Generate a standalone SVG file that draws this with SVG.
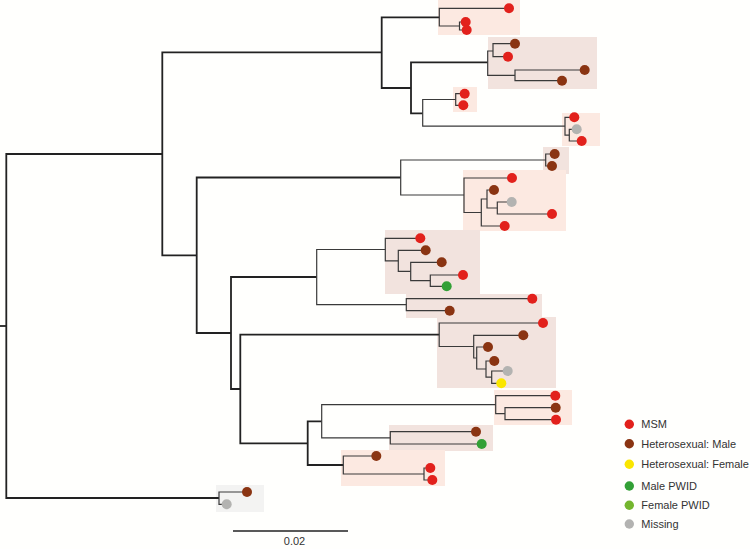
<svg xmlns="http://www.w3.org/2000/svg" width="750" height="549" viewBox="0 0 750 549">
<style>
.hs{fill:#fce9e1}
.hb{fill:#f2e3de}
.hg{fill:#f3f3f2}
.b{fill:none;stroke:#222;stroke-width:1.8}
.t{fill:none;stroke:#3a3a3a;stroke-width:1.2}
.msm{fill:#e2211c}
.hm{fill:#8a3412}
.hf{fill:#fae600}
.mp{fill:#32a036}
.fp{fill:#74b62e}
.mi{fill:#b3b3b1}
text{font-family:"Liberation Sans",Arial,sans-serif;font-size:11px;fill:#333}
</style>
<rect width="750" height="549" fill="#fffffd"/>
<g id="clades">
<rect class="hs" x="438" y="0" width="82" height="35"/>
<rect class="hb" x="488" y="37" width="109" height="52"/>
<rect class="hs" x="453" y="87" width="24" height="25"/>
<rect class="hs" x="562" y="113" width="38" height="33"/>
<rect class="hb" x="543" y="147" width="26" height="27"/>
<rect class="hs" x="463" y="170" width="103" height="61"/>
<rect class="hb" x="385" y="230" width="95" height="64"/>
<rect class="hb" x="406" y="294" width="136" height="24"/>
<rect class="hb" x="437" y="317" width="119" height="71"/>
<rect class="hs" x="494" y="390" width="78" height="35"/>
<rect class="hb" x="389" y="425" width="104" height="26"/>
<rect class="hs" x="341" y="450" width="104" height="36"/>
<rect class="hg" x="216" y="485" width="48" height="27"/>
</g>
<g id="connectors">
<path class="b" d="M0 326H6.3"/>
<path class="b" d="M162.3 154H6.3V498H219"/>
<path class="b" d="M381.7 52.3H162.3V255.3H196.7"/>
<path class="b" d="M439.3 17.3H381.7V88H411"/>
<path class="t" d="M509 8.3H439.3V26H459.5"/>
<path class="t" d="M465.7 22H459.5V30H466.7"/>
<path class="b" d="M487.7 62.3H411V113.3H422.7"/>
<path class="t" d="M493 51H487.7V75.3H515"/>
<path class="t" d="M515 43.7H493V56.7H508"/>
<path class="t" d="M584.7 70H515V80.7H562"/>
<path class="t" d="M455.7 99.5H422.7V126.2H565"/>
<path class="t" d="M464.7 93.7H455.7V105.3H463.3"/>
<path class="t" d="M574.3 117.3H565V135.2H569.3"/>
<path class="t" d="M576.7 129.3H569.3V141H581.7"/>
<path class="b" d="M400.7 177.5H196.7V333H231"/>
<path class="t" d="M545.7 160H400.7V195H464"/>
<path class="t" d="M554.7 154H545.7V166H552"/>
<path class="t" d="M512 178H464V212.5H481.3"/>
<path class="t" d="M487 199H481.3V226H504.7"/>
<path class="t" d="M494 190H487V208H497.3"/>
<path class="t" d="M511.7 202H497.3V214H552"/>
<path class="b" d="M316.7 277H231V389H240.3"/>
<path class="t" d="M385.3 249.5H316.7V304.7H406.3"/>
<path class="t" d="M420.3 238.3H385.3V260.8H398.3"/>
<path class="t" d="M425.7 250.3H398.3V271.3H410.7"/>
<path class="t" d="M441.7 262.3H410.7V280.7H430.3"/>
<path class="t" d="M463 275H430.3V286.3H446.7"/>
<path class="t" d="M532.3 298.7H406.3V310.7H449.7"/>
<path class="b" d="M439.2 334.7H240.3V443.3H307.7"/>
<path class="t" d="M543 323H439.2V346.5H473.7"/>
<path class="t" d="M523.3 335.3H473.7V358H476.7"/>
<path class="t" d="M488 347H476.7V369H486"/>
<path class="t" d="M494.3 361H486V377.2H491.7"/>
<path class="t" d="M507.7 371H491.7V383.3H501.3"/>
<path class="b" d="M321.7 421.3H307.7V465H343.3"/>
<path class="t" d="M495.7 404.7H321.7V437.8H390.3"/>
<path class="t" d="M555.3 395.7H495.7V413.7H505"/>
<path class="t" d="M555.7 407.7H505V419.7H556"/>
<path class="t" d="M476 431.7H390.3V444H481.7"/>
<path class="t" d="M376.3 456H343.3V474H424"/>
<path class="t" d="M430.3 468H424V480H432.3"/>
<path class="t" d="M247 492H219V504.3H226.7"/>
</g>
<g id="tips">
<g id="tip1"><circle class="msm" cx="509" cy="8.3" r="5"/></g>
<g id="tip2"><circle class="msm" cx="465.7" cy="22" r="5"/></g>
<g id="tip3"><circle class="msm" cx="466.7" cy="30" r="5"/></g>
<g id="tip4"><circle class="hm" cx="515" cy="43.7" r="5"/></g>
<g id="tip5"><circle class="msm" cx="508" cy="56.7" r="5"/></g>
<g id="tip6"><circle class="hm" cx="584.7" cy="70" r="5"/></g>
<g id="tip7"><circle class="hm" cx="562" cy="80.7" r="5"/></g>
<g id="tip8"><circle class="msm" cx="464.7" cy="93.7" r="5"/></g>
<g id="tip9"><circle class="msm" cx="463.3" cy="105.3" r="5"/></g>
<g id="tip10"><circle class="msm" cx="574.3" cy="117.3" r="5"/></g>
<g id="tip11"><circle class="mi" cx="576.7" cy="129.3" r="5"/></g>
<g id="tip12"><circle class="msm" cx="581.7" cy="141" r="5"/></g>
<g id="tip13"><circle class="hm" cx="554.7" cy="154" r="5"/></g>
<g id="tip14"><circle class="hm" cx="552" cy="166" r="5"/></g>
<g id="tip15"><circle class="msm" cx="512" cy="178" r="5"/></g>
<g id="tip16"><circle class="hm" cx="494" cy="190" r="5"/></g>
<g id="tip17"><circle class="mi" cx="511.7" cy="202" r="5"/></g>
<g id="tip18"><circle class="msm" cx="552" cy="214" r="5"/></g>
<g id="tip19"><circle class="msm" cx="504.7" cy="226" r="5"/></g>
<g id="tip20"><circle class="msm" cx="420.3" cy="238.3" r="5"/></g>
<g id="tip21"><circle class="hm" cx="425.7" cy="250.3" r="5"/></g>
<g id="tip22"><circle class="hm" cx="441.7" cy="262.3" r="5"/></g>
<g id="tip23"><circle class="msm" cx="463" cy="275" r="5"/></g>
<g id="tip24"><circle class="mp" cx="446.7" cy="286.3" r="5"/></g>
<g id="tip25"><circle class="msm" cx="532.3" cy="298.7" r="5"/></g>
<g id="tip26"><circle class="hm" cx="449.7" cy="310.7" r="5"/></g>
<g id="tip27"><circle class="msm" cx="543" cy="323" r="5"/></g>
<g id="tip28"><circle class="hm" cx="523.3" cy="335.3" r="5"/></g>
<g id="tip29"><circle class="hm" cx="488" cy="347" r="5"/></g>
<g id="tip30"><circle class="hm" cx="494.3" cy="361" r="5"/></g>
<g id="tip31"><circle class="mi" cx="507.7" cy="371" r="5"/></g>
<g id="tip32"><circle class="hf" cx="501.3" cy="383.3" r="5"/></g>
<g id="tip33"><circle class="msm" cx="555.3" cy="395.7" r="5"/></g>
<g id="tip34"><circle class="hm" cx="555.7" cy="407.7" r="5"/></g>
<g id="tip35"><circle class="msm" cx="556" cy="419.7" r="5"/></g>
<g id="tip36"><circle class="hm" cx="476" cy="431.7" r="5"/></g>
<g id="tip37"><circle class="mp" cx="481.7" cy="444" r="5"/></g>
<g id="tip38"><circle class="hm" cx="376.3" cy="456" r="5"/></g>
<g id="tip39"><circle class="msm" cx="430.3" cy="468" r="5"/></g>
<g id="tip40"><circle class="msm" cx="432.3" cy="480" r="5"/></g>
<g id="tip41"><circle class="hm" cx="247" cy="492" r="5"/></g>
<g id="tip42"><circle class="mi" cx="226.7" cy="504.3" r="5"/></g>
</g>
<g id="scale">
<path d="M233 531H348" stroke="#222" stroke-width="1.5"/>
<text x="294.5" y="545" text-anchor="middle">0.02</text>
</g>
<g id="legend">
<g id="leg-msm"><circle class="msm" cx="629.3" cy="424.3" r="4.7"/><text x="641.3" y="428.2">MSM</text></g>
<g id="leg-hm"><circle class="hm" cx="629.3" cy="443.7" r="4.7"/><text x="641.3" y="447.6">Heterosexual: Male</text></g>
<g id="leg-hf"><circle class="hf" cx="629.3" cy="464.3" r="4.7"/><text x="641.3" y="468.2">Heterosexual: Female</text></g>
<g id="leg-mp"><circle class="mp" cx="629.3" cy="486" r="4.7"/><text x="641.3" y="489.9">Male PWID</text></g>
<g id="leg-fp"><circle class="fp" cx="629.3" cy="505.3" r="4.7"/><text x="641.3" y="509.2">Female PWID</text></g>
<g id="leg-mi"><circle class="mi" cx="629.3" cy="524" r="4.7"/><text x="641.3" y="527.9">Missing</text></g>
</g>
</svg>
